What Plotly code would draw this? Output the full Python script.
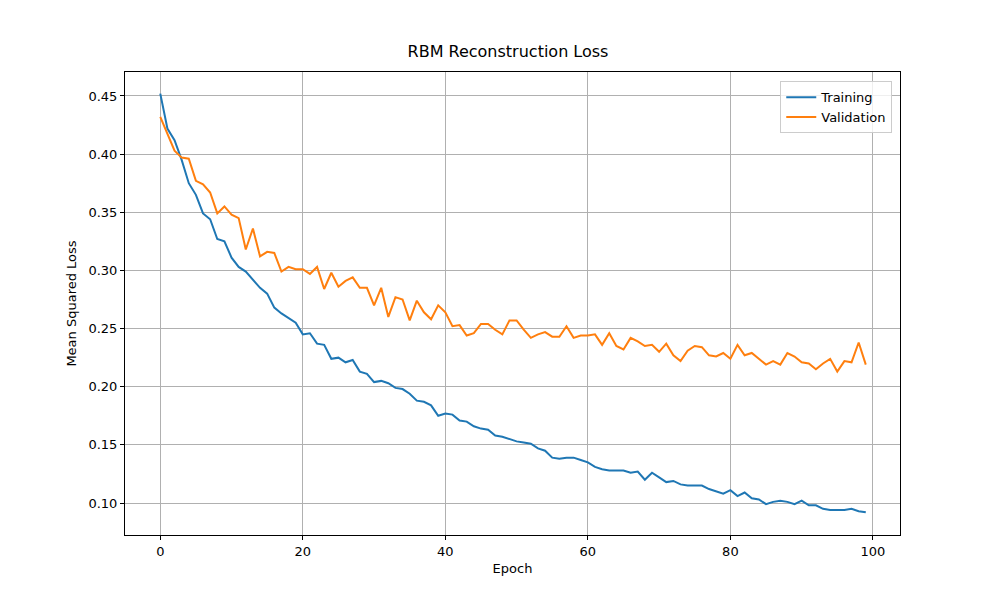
import plotly.graph_objects as go

epochs = list(range(100))
training = [0.452, 0.422, 0.412, 0.395, 0.375, 0.365, 0.349, 0.344, 0.327, 0.325,
            0.311, 0.303, 0.299, 0.292, 0.285, 0.280, 0.268, 0.263, 0.259, 0.255,
            0.245, 0.246, 0.237, 0.236, 0.224, 0.225, 0.221, 0.223, 0.213, 0.211,
            0.204, 0.205, 0.203, 0.199, 0.198, 0.194, 0.188, 0.187, 0.184, 0.175,
            0.177, 0.176, 0.171, 0.170, 0.166, 0.164, 0.163, 0.158, 0.157, 0.155,
            0.153, 0.152, 0.151, 0.147, 0.145, 0.139, 0.138, 0.139, 0.139, 0.137,
            0.135, 0.131, 0.129, 0.128, 0.128, 0.128, 0.126, 0.127, 0.120, 0.126,
            0.122, 0.118, 0.119, 0.116, 0.115, 0.115, 0.115, 0.112, 0.110, 0.108,
            0.111, 0.106, 0.109, 0.104, 0.103, 0.099, 0.101, 0.102, 0.101, 0.099,
            0.102, 0.098, 0.098, 0.095, 0.094, 0.094, 0.094, 0.095, 0.093, 0.092]
validation = [0.432, 0.418, 0.403, 0.397, 0.396, 0.377, 0.374, 0.367, 0.349, 0.355,
              0.348, 0.345, 0.318, 0.336, 0.312, 0.316, 0.315, 0.299, 0.303, 0.301,
              0.301, 0.297, 0.303, 0.284, 0.298, 0.286, 0.291, 0.294, 0.285, 0.285,
              0.270, 0.285, 0.260, 0.277, 0.275, 0.257, 0.274, 0.264, 0.258, 0.270,
              0.264, 0.252, 0.253, 0.244, 0.246, 0.254, 0.254, 0.249, 0.245, 0.257,
              0.257, 0.249, 0.242, 0.245, 0.247, 0.243, 0.243, 0.252, 0.242, 0.244,
              0.244, 0.245, 0.236, 0.246, 0.235, 0.232, 0.242, 0.239, 0.235, 0.236,
              0.230, 0.237, 0.227, 0.222, 0.231, 0.235, 0.234, 0.227, 0.226, 0.229,
              0.224, 0.236, 0.227, 0.229, 0.224, 0.219, 0.222, 0.219, 0.229, 0.226,
              0.221, 0.220, 0.215, 0.220, 0.224, 0.213, 0.222, 0.221, 0.238, 0.219]

fig = go.Figure()
fig.add_trace(go.Scatter(x=epochs, y=training, mode="lines", name="Training",
                         line=dict(color="#1f77b4", width=2)))
fig.add_trace(go.Scatter(x=epochs, y=validation, mode="lines", name="Validation",
                         line=dict(color="#ff7f0e", width=2)))

axis_style = dict(showline=True, linecolor="black", linewidth=1, mirror=True,
                  showgrid=True, gridcolor="#b0b0b0", gridwidth=1, zeroline=False,
                  ticks="outside", ticklen=4, tickcolor="black", automargin=False,
                  tickfont=dict(size=13, color="black"))
fig.update_layout(
    width=1000, height=600,
    paper_bgcolor="white", plot_bgcolor="white",
    font=dict(family="DejaVu Sans", color="black"),
    margin=dict(l=117, r=108, t=64, b=73),
    title=dict(text="RBM Reconstruction Loss", x=0.5, xanchor="center",
               y=0.918, yanchor="bottom", font=dict(size=16)),
    legend=dict(x=0.99, y=0.98, xanchor="right", yanchor="top",
                bordercolor="#cccccc", borderwidth=1, bgcolor="rgba(255,255,255,0.8)",
                font=dict(size=13)),
    showlegend=True,
)
fig.update_xaxes(range=[-4.95, 103.8], dtick=20, title_text="Epoch",
                 title_font=dict(size=13), title_standoff=6, **axis_style)
fig.update_yaxes(range=[0.0725, 0.4706], dtick=0.05, tickformat=".2f",
                 title_text="Mean Squared Loss", title_font=dict(size=13),
                 title_standoff=8, **axis_style)

fig.write_html("out.html")
